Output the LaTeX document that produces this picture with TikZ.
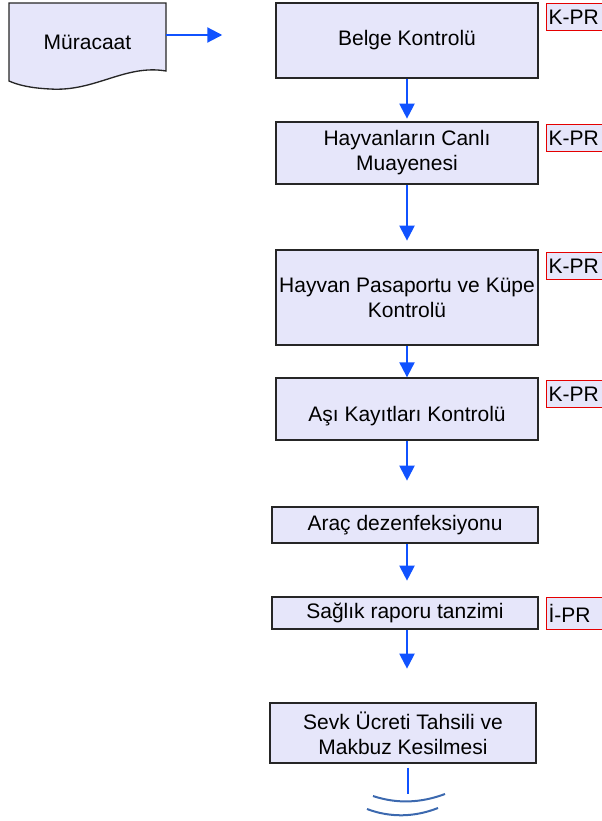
\documentclass[tikz,border=0pt]{standalone}
\usepackage{fontspec}
\setmainfont{Liberation Sans}
\usetikzlibrary{arrows.meta}
\definecolor{lavanta}{RGB}{230,230,250}
\definecolor{okmavi}{RGB}{16,82,255}
\definecolor{yaymavi}{RGB}{60,105,175}
\begin{document}
\begin{tikzpicture}[x=0.75pt,y=-0.75pt]
    \tikzset{kutu/.style={draw=black!85, fill=lavanta, line width=1pt, align=center, minimum width=196.5pt, inner sep=1pt, font=\fontsize{15.75}{18.75}\selectfont}}
    \tikzset{etiket/.style={draw=red!90!black, fill=lavanta, line width=0.75pt, anchor=north west, text width=60pt, inner xsep=1.5pt, inner ysep=0pt, align=left, font=\fontsize{15.75}{18.75}\selectfont}}
    \tikzset{ok/.style={draw=okmavi, line width=1.6pt, -{Triangle[length=11.25pt,width=11.25pt]}}}
    \useasboundingbox (0,0) rectangle (601,821);
    \draw[fill=lavanta, draw=black!85, line width=1pt] (9,3) -- (166,3) -- (166,71) .. controls (125,64) and (95,92) .. (50,89) .. controls (30,88) and (18,85) .. (9,81) -- cycle;
    \node[minimum width=117.75pt, minimum height=58.5pt, font=\fontsize{15.75}{18.75}\selectfont] (muracaat) at (87.5,42) {Müracaat};
    \node[kutu, minimum height=56.25pt] (belge) at (407,40.5) {Belge Kontrolü};
    \node[kutu, minimum height=46.5pt] (canli) at (407,153) {Hayvanların Canlı\\Muayenesi};
    \node[kutu, minimum height=71.25pt] (pasaport) at (407,297.5) {Hayvan Pasaportu ve Küpe\\Kontrolü};
    \node[kutu, minimum height=46.5pt] (asi) at (407,409) {\rule{0pt}{22pt}Aşı Kayıtları Kontrolü};
    \node[kutu, minimum width=199.5pt, minimum height=27pt] (arac) at (405,525) {Araç dezenfeksiyonu};
    \node[kutu, minimum width=199.5pt, minimum height=24pt] (saglik) at (405,613) {Sağlık raporu tanzimi};
    \node[kutu, minimum width=199.5pt, minimum height=45pt] (sevk) at (403,733) {Sevk Ücreti Tahsili ve\\Makbuz Kesilmesi};
    \node[etiket, minimum height=20.25pt] (kpr1) at (546,3) {K-PR};
    \node[etiket, minimum height=20.25pt] (kpr2) at (546,124) {K-PR};
    \node[etiket, minimum height=20.25pt] (kpr3) at (546,252) {K-PR};
    \node[etiket, minimum height=20.25pt] (kpr4) at (546,380) {K-PR};
    \node[etiket, minimum height=24pt] (ipr) at (546,597) {İ-PR};
    \draw[ok] ([yshift=5.25pt]muracaat.east) -- ++(56,0);
    \draw[ok] (belge.south) -- ++(0,40);
    \draw[ok] (canli.south) -- ++(0,56);
    \draw[ok] (pasaport.south) -- (asi.north);
    \draw[ok] (asi.south) -- ++(0,40);
    \draw[ok] ([xshift=1.5pt]arac.south) -- ++(0,37);
    \draw[ok] ([xshift=1.5pt]saglik.south) -- ++(0,39);
    \draw[okmavi, line width=1.6pt] ([xshift=3.75pt]sevk.south) ++(0,4) -- ++(0,26);
    \draw[yaymavi, line width=1.5pt] (373,796) .. controls (397,804) and (421,803) .. (445,794);
    \draw[yaymavi, line width=1.5pt] (367,809) .. controls (391,818) and (415,817) .. (438,808);
  \end{tikzpicture}
\end{document}
